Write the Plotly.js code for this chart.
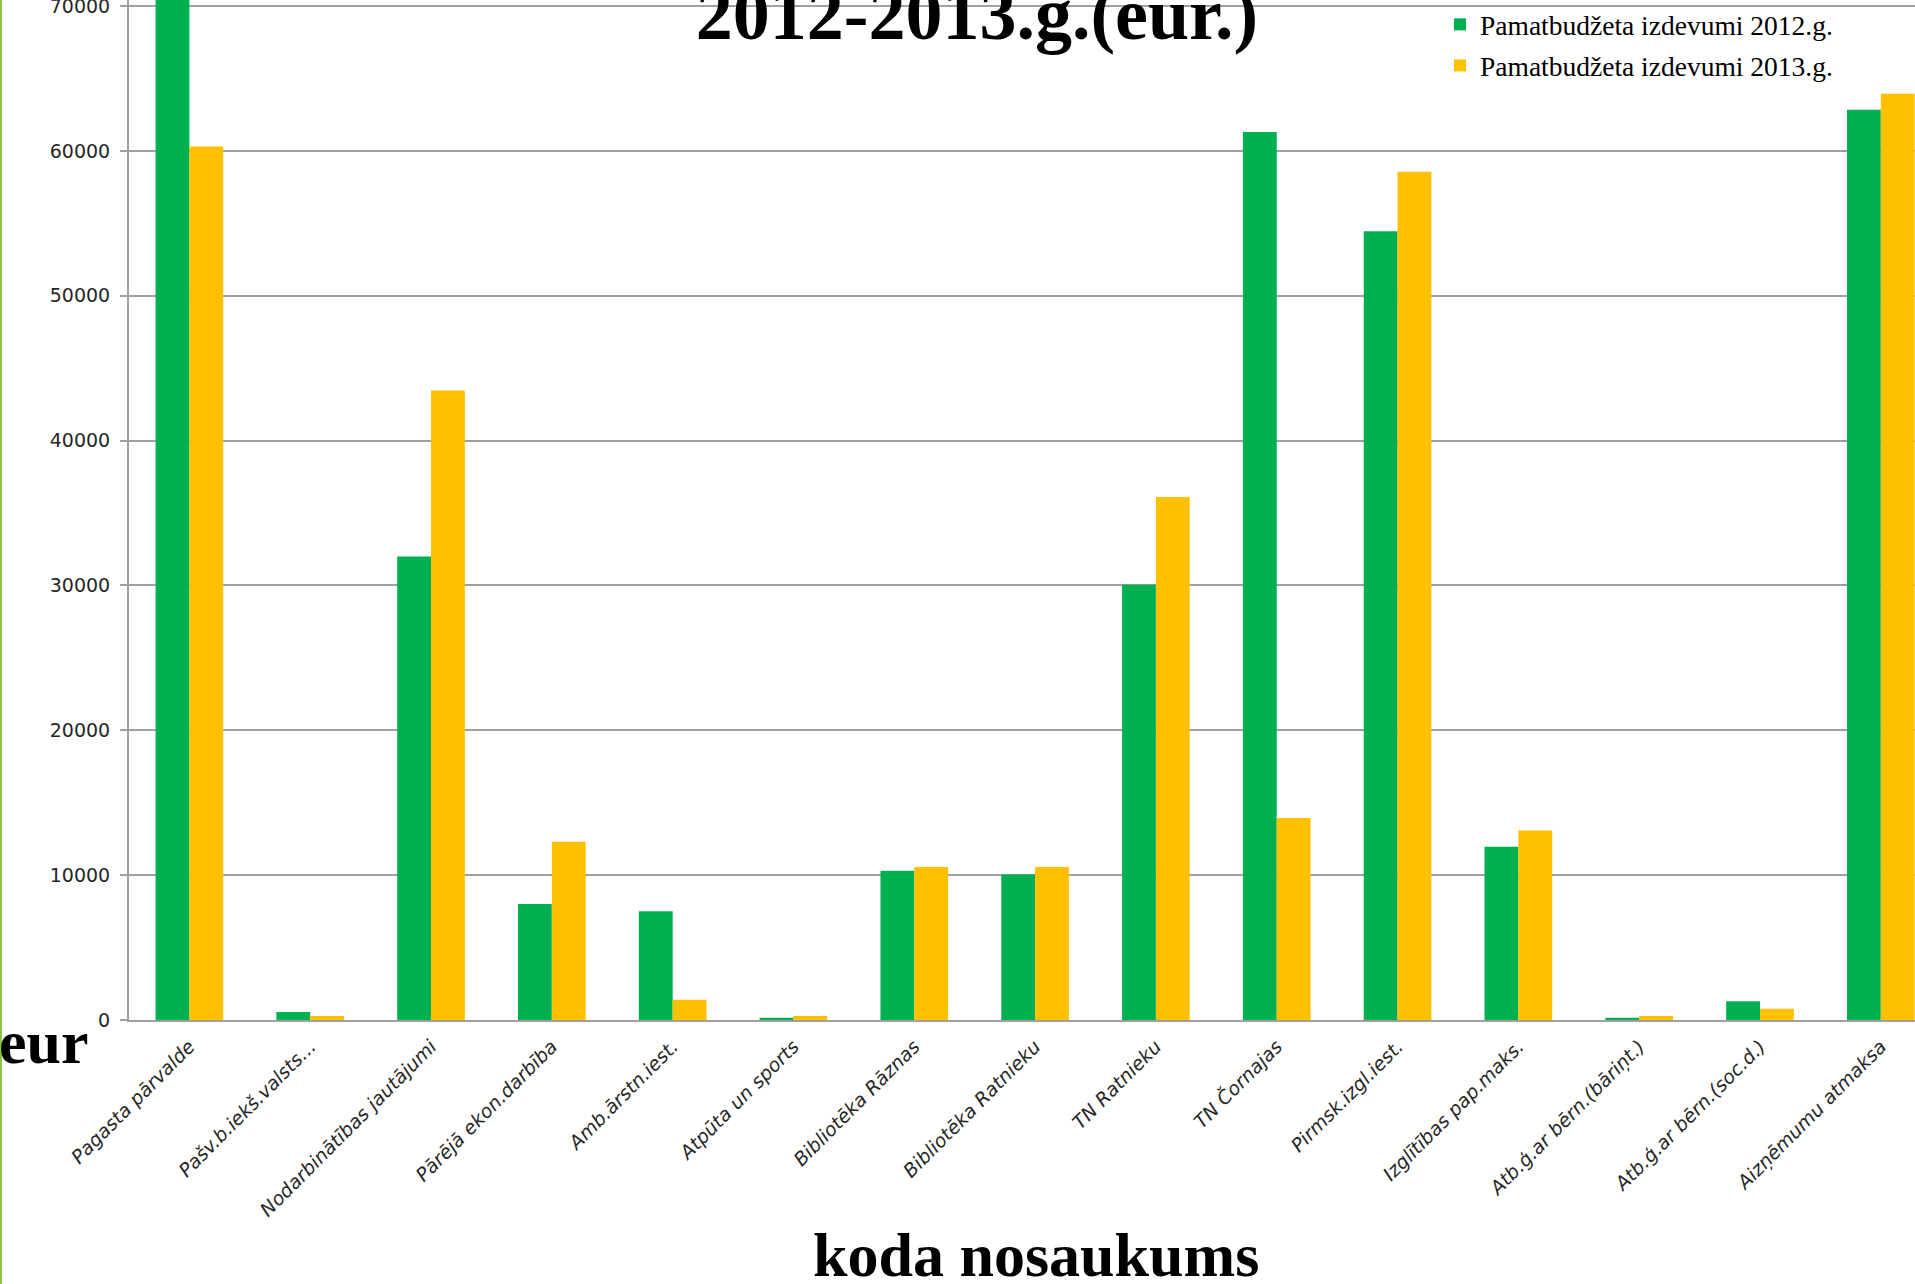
<!DOCTYPE html>
<html>
<head>
<meta charset="utf-8">
<script src="https://cdn.plot.ly/plotly-3.0.1.min.js"></script>
<style>
  html, body { margin: 0; padding: 0; background: #ffffff; overflow: hidden; }
  #chart { width: 1915px; height: 1284px; }
</style>
</head>
<body>
<div id="chart"></div>
<script>
// ---- data ----
const categories = [
  "Pagasta pārvalde",
  "Pašv.b.iekš.valsts...",
  "Nodarbinātības jautājumi",
  "Pārējā ekon.darbība",
  "Amb.ārstn.iest.",
  "Atpūta un sports",
  "Bibliotēka Rāznas",
  "Bibliotēka Ratnieku",
  "TN Ratnieku",
  "TN Čornajas",
  "Pirmsk.izgl.iest.",
  "Izglītības pap.maks.",
  "Atb.ģ.ar bērn.(bāriņt.)",
  "Atb.ģ.ar bērn.(soc.d.)",
  "Aizņēmumu atmaksa"
];
const values2012 = [76000, 550, 32000, 8000, 7500, 160, 10300, 10050, 30050, 61300, 54450, 11960, 160, 1290, 62830];
const values2013 = [60300, 280, 43450, 12300, 1400, 280, 10570, 10570, 36100, 13950, 58550, 13080, 280, 780, 63940];
const seriesNames = ["Pamatbudžeta izdevumi 2012.g.", "Pamatbudžeta izdevumi 2013.g."];
const yTickValues = [0, 10000, 20000, 30000, 40000, 50000, 60000, 70000];
const titleText = "2012-2013.g.(eur.)";
const xTitleText = "koda nosaukums";
const yUnitText = "eur";

// ---- styling / layout ----
const GREEN = "#00B050";
const YELLOW = "#FFC000";
const GRID = "#a0a0a0";
const serif = "Liberation Serif, Times New Roman, serif";
const sans = "DejaVu Sans, Verdana, sans-serif";

const W = 1915, H = 1284;
const mL = 129, mR = 0, mT = 0, mB = 264;
const plotW = W - mL - mR, plotH = H - mT - mB;
const px = v => (v - mL) / plotW;          // page x -> paper x
const py = v => 1 - (v - mT) / plotH;      // page y -> paper y

const traces = [
  {
    type: "bar", name: seriesNames[0], x: categories, y: values2012,
    marker: { color: GREEN, line: { width: 0 } }, legend: "legend",
    hoverinfo: "x+y"
  },
  {
    type: "bar", name: seriesNames[1], x: categories, y: values2013,
    marker: { color: YELLOW, line: { width: 0 } }, legend: "legend2",
    hoverinfo: "x+y"
  }
];

const legendCommon = {
  xanchor: "left", yanchor: "middle", orientation: "v",
  bgcolor: "rgba(0,0,0,0)", borderwidth: 0,
  font: { family: serif, size: 27.5, color: "#000" },
  itemwidth: 30
};

const layout = {
  width: W, height: H,
  margin: { l: mL, r: mR, t: mT, b: mB, pad: 0 },
  paper_bgcolor: "#ffffff",
  plot_bgcolor: "#ffffff",
  barmode: "group",
  bargap: 0.44,
  bargroupgap: 0,
  showlegend: true,
  title: {
    text: titleText,
    font: { family: serif, size: 74, color: "#000", weight: "bold" },
    xref: "container", x: 977 / W, xanchor: "center",
    yref: "container", y: 1 - 38.5 / H, yanchor: "bottom",
    pad: { t: 0, b: 0, l: 0, r: 0 }
  },
  legend: Object.assign({}, legendCommon, { x: px(1440), y: py(24.5) }),
  legend2: Object.assign({}, legendCommon, { x: px(1440), y: py(65.5) }),
  xaxis: {
    type: "category",
    range: [-0.5, 14.283],
    showline: true, linecolor: GRID, linewidth: 2,
    ticks: "", showgrid: false, zeroline: false,
    tickangle: -45,
    ticklabelstandoff: 6,
    tickfont: { family: sans, size: 19, color: "#262626", style: "italic" },
    automargin: false
  },
  yaxis: {
    range: [0, 70414],
    tickmode: "array", tickvals: yTickValues,
    ticktext: yTickValues.map(String),
    showline: true, linecolor: GRID, linewidth: 2,
    ticks: "outside", ticklen: 7, tickcolor: GRID, tickwidth: 2,
    showgrid: true, gridcolor: GRID, gridwidth: 2,
    zeroline: false,
    ticklabeloverflow: "allow",
    ticklabelstandoff: 6,
    tickfont: { family: sans, size: 19, color: "#262626" },
    automargin: false
  },
  annotations: [
    {
      text: xTitleText, showarrow: false,
      xref: "paper", yref: "paper",
      x: px(1036), xanchor: "center",
      y: py(1291), yanchor: "bottom",
      font: { family: serif, size: 62, color: "#000", weight: "bold" }
    },
    {
      text: yUnitText, showarrow: false,
      xref: "paper", yref: "paper",
      x: px(-3), xanchor: "left",
      y: py(1078), yanchor: "bottom",
      font: { family: serif, size: 62, color: "#000", weight: "bold" }
    }
  ],
  shapes: [
    {
      type: "line", xref: "paper", yref: "paper",
      x0: px(1), x1: px(1), y0: py(0), y1: py(H),
      line: { color: "#8cc63f", width: 2 }
    }
  ]
};

Plotly.newPlot("chart", traces, layout, { displayModeBar: false, staticPlot: true });
</script>
</body>
</html>
